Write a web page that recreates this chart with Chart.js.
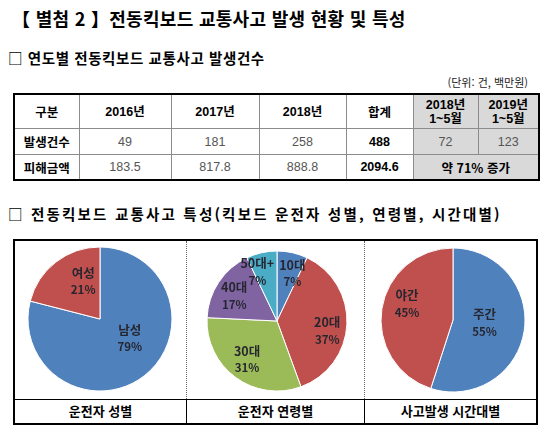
<!DOCTYPE html>
<html lang="ko">
<head>
<meta charset="utf-8">
<script src="https://cdn.jsdelivr.net/npm/chart.js@4.4.1/dist/chart.umd.min.js"></script>
<style>
  html, body { margin: 0; padding: 0; background: #fff; }
  #page { position: relative; width: 550px; height: 430px; overflow: hidden; color: #000;
          font-family: "Liberation Sans", "Noto Sans CJK KR", sans-serif; }
  .txt { position: absolute; white-space: nowrap; line-height: 1; font-family: "Noto Sans CJK KR", sans-serif; }
  #title { left: 12px; top: 9px; font-size: 18px; font-weight: 700; letter-spacing: 0.3px; }
  #head1 { left: 8px; top: 51px; font-size: 14.5px; font-weight: 700; letter-spacing: 0.6px; }
  #unit { right: 22px; top: 77px; font-size: 11px; color: #222; }
  #head2 { left: 8px; top: 207px; font-size: 14.5px; font-weight: 700; letter-spacing: 2.2px; }

  #stats { position: absolute; left: 13px; top: 93px; width: 525px; border-collapse: collapse;
           border: 2px solid #000; table-layout: fixed; }
  #stats td { border: 1px solid #8c8c8c; text-align: center; padding: 0; font-size: 12.5px; color: #555; }
  #stats tr.h td { height: 33px; font-weight: 700; color: #000; font-size: 12.5px; line-height: 14px; }
  #stats tr.r1 td { height: 25px; }
  #stats tr.r2 td { height: 24px; }
  #stats td.lab { font-family: "Noto Sans CJK KR"; font-weight: 700; color: #000; font-size: 12.5px; }
  #stats td.sum { font-weight: 700; color: #000; }
  #stats td.g { background: #d9d9d9; }
  #stats td.chg { font-family: "Noto Sans CJK KR"; font-weight: 700; color: #000; font-size: 12.5px; }

  #box { position: absolute; left: 13px; top: 239px; width: 525px; height: 186px; box-sizing: border-box;
         border: 2px solid #000; }
  .dots { position: absolute; top: 241px; height: 158px; width: 0; border-left: 1px dotted #666; }
  #caprow { position: absolute; left: 13px; top: 399px; width: 525px; height: 26px; box-sizing: border-box;
            border: 2px solid #000; border-top: 1px solid #000; display: flex; }
  #caprow div { flex: none; text-align: center; line-height: 22px; font-family: "Noto Sans CJK KR";
                font-weight: 700; font-size: 13px; box-sizing: border-box; }
  .pie { position: absolute; width: 160px; height: 160px; }
</style>
</head>
<body>
<div id="page">
  <div class="txt" id="title">【 별첨 2 】전동킥보드 교통사고 발생 현황 및 특성</div>
  <div class="txt" id="head1">□ 연도별 전동킥보드 교통사고 발생건수</div>
  <div class="txt" id="unit">(단위: 건, 백만원)</div>
  <table id="stats">
    <colgroup>
      <col style="width:65px"><col style="width:92px"><col style="width:88px"><col style="width:87px">
      <col style="width:67px"><col style="width:65px"><col style="width:61px">
    </colgroup>
    <tbody id="stats-body"></tbody>
  </table>
  <div class="txt" id="head2">□ 전동킥보드 교통사고 특성(킥보드 운전자 성별, 연령별, 시간대별)</div>

  <div id="box"></div>
  <div class="dots" style="left:186px"></div>
  <div class="dots" style="left:364px"></div>
  <div id="caprow">
    <div style="width:172px; border-right:1px solid #000">운전자 성별</div>
    <div style="width:178px; border-right:1px solid #000">운전자 연령별</div>
    <div style="width:171px">사고발생 시간대별</div>
  </div>

  <div class="pie" style="left:20px; top:239px"><canvas id="gender-chart" width="160" height="160"></canvas></div>
  <div class="pie" style="left:197px; top:241px"><canvas id="age-chart" width="160" height="160"></canvas></div>
  <div class="pie" style="left:373px; top:240px"><canvas id="time-chart" width="160" height="160"></canvas></div>
</div>

<script>
// --- 표 데이터 ---
const rowLabels = ['구분', '발생건수', '피해금액'];
const years = ['2016년', '2017년', '2018년'];
const totalLabel = '합계';
const accidentCounts = [49, 181, 258];
const accidentTotal = 488;
const damageAmounts = [183.5, 817.8, 888.8];
const damageTotal = 2094.6;
const recentPeriods = [['2018년', '1~5월'], ['2019년', '1~5월']];
const recentCounts = [72, 123];
const recentChange = '약 71% 증가';

// --- 파이 차트 데이터 ---
const genderLabels = ['남성', '여성'];
const genderValues = [79, 21];
const ageLabels = ['10대', '20대', '30대', '40대', '50대+'];
const ageValues = [7, 37, 31, 17, 7];
const timeLabels = ['주간', '야간'];
const timeValues = [55, 45];

// --- 스타일 ---
const BLUE = '#4f81bd', RED = '#c0504d', GREEN = '#9bbb59', PURPLE = '#8064a2', CYAN = '#4bacc6';
// 라벨 위치: [반지름 비율, 각도 보정(도)]
const genderLabelPos = [[0.49, -20], [0.58, 14]];
const ageLabelPos = [[0.72, 5], [0.73, 8], [0.69, 2], [0.71, -3], [0.76, -9]];
const timeLabelPos = [[0.44, -5], [0.68, 11]];

// 표 그리기
const tbody = document.getElementById('stats-body');
let html = '<tr class="h"><td class="lab">' + rowLabels[0] + '</td>';
years.forEach(y => { html += `<td>${y}</td>`; });
html += `<td class="lab">${totalLabel}</td>`;
recentPeriods.forEach(p => { html += `<td class="g">${p[0]}<br>${p[1]}</td>`; });
html += '</tr>';

html += `<tr class="r1"><td class="lab">${rowLabels[1]}</td>`;
accidentCounts.forEach(v => { html += `<td>${v}</td>`; });
html += `<td class="sum">${accidentTotal}</td>`;
recentCounts.forEach(v => { html += `<td class="g">${v}</td>`; });
html += '</tr>';

html += `<tr class="r2"><td class="lab">${rowLabels[2]}</td>`;
damageAmounts.forEach(v => { html += `<td>${v.toFixed(1)}</td>`; });
html += `<td class="sum">${damageTotal.toFixed(1)}</td>`;
html += `<td class="g chg" colspan="2">${recentChange}</td></tr>`;
tbody.innerHTML = html;

// 조각 안쪽 라벨 (이름 + %)
const sliceLabels = {
    id: 'sliceLabels',
    afterDatasetsDraw(chart, args, opts) {
        const ctx = chart.ctx;
        const meta = chart.getDatasetMeta(0);
        const values = chart.data.datasets[0].data;
        ctx.save();
        ctx.fillStyle = '#262630';
        ctx.textAlign = 'center';
        ctx.textBaseline = 'middle';
        meta.data.forEach((arc, i) => {
            const p = arc.getProps(['x', 'y', 'startAngle', 'endAngle', 'outerRadius'], true);
            const [frac, shift] = opts.pos[i];
            const mid = (p.startAngle + p.endAngle) / 2 + shift * Math.PI / 180;
            const r = p.outerRadius * frac;
            const x = p.x + Math.cos(mid) * r;
            const y = p.y + Math.sin(mid) * r;
            ctx.font = 'bold 12.5px "Noto Sans CJK KR"';
            ctx.fillText(chart.data.labels[i], x, y - 8);
            ctx.font = 'bold 11.5px "Noto Sans CJK KR"';
            ctx.fillText(values[i] + '%', x, y + 9);
        });
        ctx.restore();
    }
};

function makePie(id, labels, values, colors, radius, labelPos) {
    return new Chart(document.getElementById(id), {
        type: 'pie',
        data: { labels: labels, datasets: [{ data: values, backgroundColor: colors, borderColor: '#fff', borderWidth: 1 }] },
        options: {
            responsive: false, animation: false, radius: radius,
            plugins: { legend: { display: false }, tooltip: { enabled: false }, sliceLabels: { pos: labelPos } }
        },
        plugins: [sliceLabels]
    });
}

makePie('gender-chart', genderLabels, genderValues, [BLUE, RED], 72, genderLabelPos);
makePie('age-chart', ageLabels, ageValues, [BLUE, RED, GREEN, PURPLE, CYAN], 70, ageLabelPos);
makePie('time-chart', timeLabels, timeValues, [BLUE, RED], 72, timeLabelPos);
</script>
</body>
</html>
